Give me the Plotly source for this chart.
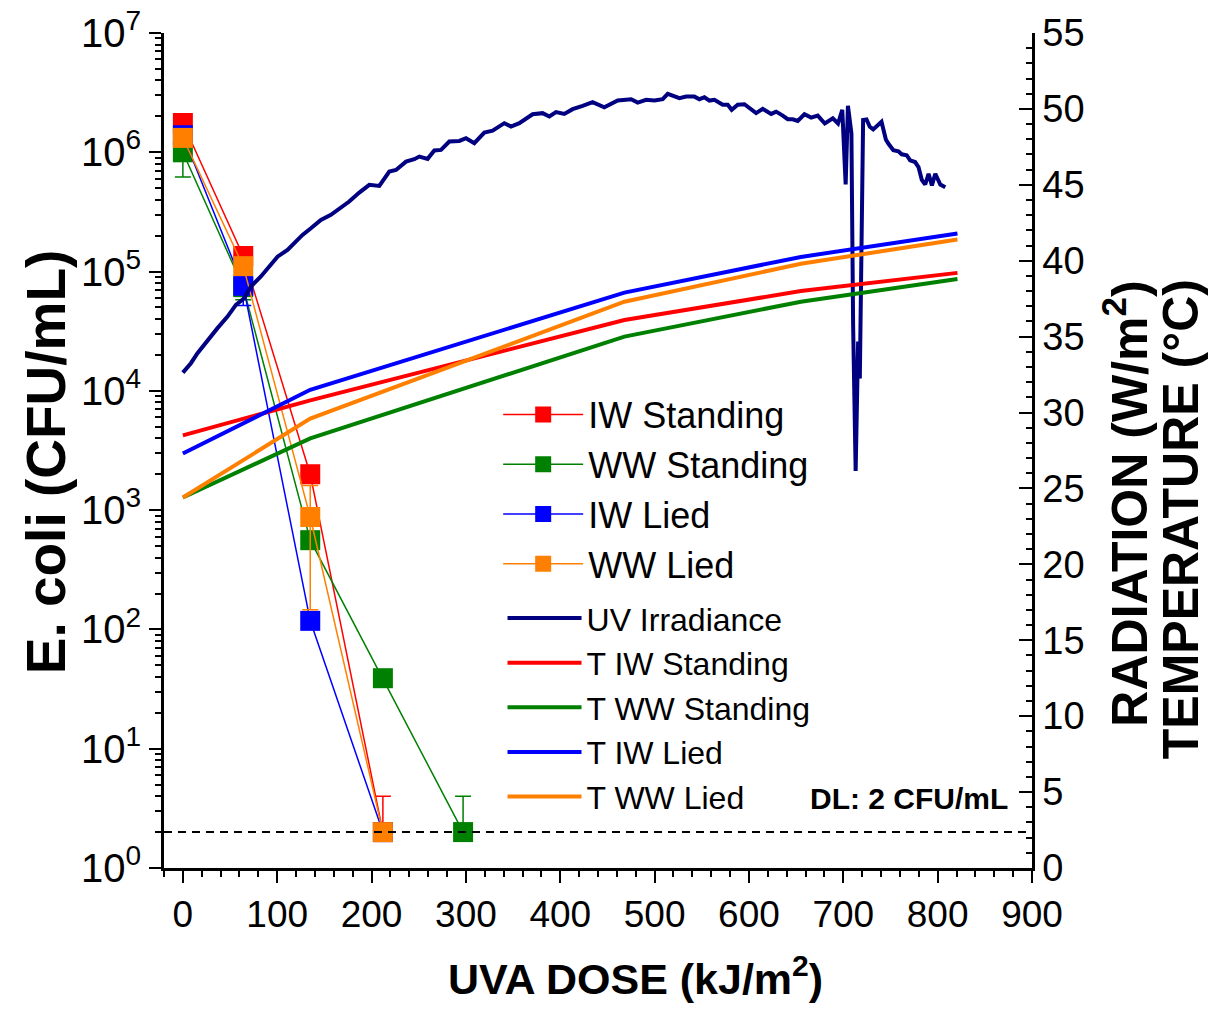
import plotly.graph_objects as go

# ---- E. coli counts (CFU/mL) versus accumulated UVA dose (kJ/m2) ----
dose_iw_standing = [0, 64, 135, 212]
cfu_iw_standing = [1.76e6, 1.35e5, 2000, 2]
err_iw_standing_up = [0, 0, 0, 2]
err_iw_standing_dn = [0, 0, 0, 0]

dose_ww_standing = [0, 64, 135, 212, 297]
cfu_ww_standing = [1.0e6, 7.4e4, 560, 39, 2]
err_ww_standing_up = [3.8e5, 1.6e4, 0, 0, 2]
err_ww_standing_dn = [3.8e5, 1.6e4, 0, 0, 0]

dose_iw_lied = [0, 64, 135, 212]
cfu_iw_lied = [1.39e6, 7.6e4, 118, 2]
err_iw_lied_up = [0, 2.4e4, 0, 0]
err_iw_lied_dn = [0, 2.4e4, 0, 0]

dose_ww_lied = [0, 64, 135, 212]
cfu_ww_lied = [1.32e6, 1.11e5, 876, 2]
err_ww_lied_up = [0, 0, 730, 0]
err_ww_lied_dn = [0, 0, 730, 0]

detection_limit = 2
dl_dose = [-20, 900]

# ---- UV irradiance (W/m2) along the dose axis ----
uv_dose = [0, 8.5, 15.5, 26.1, 36.7, 47.3, 56.2, 65.0, 72.1, 82.7, 93.3, 100.3, 110.9,
           118.0, 126.8, 135.7, 146.3, 156.9, 167.5, 176.3, 187.0, 197.6, 208.2, 218.8,
           225.9, 236.5, 245.3, 250.6, 259.4, 266.5, 273.6, 282.4, 293.0, 300.1, 308.9,
           319.5, 328.3, 340.7, 347.8, 356.6, 370.7, 381.3, 388.4, 395.5, 404.3, 413.1,
           423.7, 434.3, 446.7, 460.9, 475.1, 482.1, 491.0, 499.8, 508.6, 513.9, 526.3,
           533.4, 542.2, 547.5, 552.8, 558.1, 563.4, 572.2, 577.5, 581.7, 588.1, 595.2,
           607.6, 614.6, 623.5, 628.8, 635.8, 641.1, 646.4, 651.7, 658.8, 665.9, 672.9,
           680.4, 688.9, 694.4, 698.9, 702.5, 704.9, 708.6, 710.4, 713.1, 715.7, 717.5,
           721.0, 724.6, 728.1, 731.7, 740.5, 745.1, 747.7, 753.0, 758.4, 761.9, 767.2,
           770.8, 776.1, 779.7, 783.2, 786.8, 790.4, 793.9, 797.5, 802.8, 808.1]
uv_irradiance = [32.63, 33.25, 33.91, 34.78, 35.56, 36.32, 37.09, 37.53, 38.30, 38.96, 39.73,
                 40.27, 40.71, 41.15, 41.70, 42.14, 42.69, 43.02, 43.46, 43.90, 44.49, 45.00,
                 44.93, 45.87, 45.98, 46.53, 46.69, 46.86, 46.71, 47.26, 47.30, 47.85, 47.89,
                 48.07, 47.74, 48.44, 48.57, 49.06, 48.84, 49.06, 49.65, 49.72, 49.50, 49.79,
                 49.67, 49.98, 50.20, 50.44, 50.11, 50.55, 50.64, 50.42, 50.60, 50.55, 50.64,
                 50.99, 50.71, 50.81, 50.81, 50.64, 50.77, 50.55, 50.60, 50.27, 50.27, 49.94,
                 50.27, 50.31, 49.72, 50.00, 49.67, 49.82, 49.56, 49.32, 49.32, 49.21, 49.65,
                 49.43, 49.56, 49.04, 49.38, 49.04, 49.94, 45.02, 50.20, 48.38, 35.77, 26.15,
                 34.67, 32.24, 49.27, 49.31, 48.82, 48.65, 49.15, 47.98, 47.72, 47.28, 47.21,
                 47.01, 46.95, 46.61, 46.50, 46.17, 45.33, 45.02, 45.73, 44.96, 45.73, 45.02,
                 44.84]

# ---- Water temperature (deg C) ----
temp_dose = [0, 135, 468, 655, 821]
temp_iw_standing = [28.5, 30.8, 36.1, 38.0, 39.2]
temp_ww_standing = [24.4, 28.3, 35.0, 37.3, 38.8]
temp_iw_lied = [27.3, 31.5, 37.9, 40.25, 41.8]
temp_ww_lied = [24.4, 29.6, 37.3, 39.8, 41.4]

# ---- axis ticks ----
log_tick_vals = [1, 10, 100, 1e3, 1e4, 1e5, 1e6, 1e7]
log_tick_text = ["10<sup>%d</sup>" % k for k in range(8)]
log_minor_vals = [m * 10 ** k for k in range(7) for m in range(2, 10)]

RED, GREEN, BLUE, ORANGE, NAVY = "#FF0000", "#008000", "#0000FF", "#FF8000", "#000080"
SANS = "Liberation Sans, Arial, sans-serif"

fig = go.Figure()


def survival(name, x, y, up, dn, color):
    fig.add_trace(go.Scatter(
        x=x, y=y, name=name, mode="lines+markers",
        line=dict(color=color, width=1.5),
        marker=dict(symbol="square", size=20, color=color, line=dict(width=0)),
        error_y=dict(type="data", symmetric=False, array=up, arrayminus=dn,
                     color=color, thickness=1.5, width=8),
        legend="legend", yaxis="y",
    ))


survival("IW Standing", dose_iw_standing, cfu_iw_standing, err_iw_standing_up, err_iw_standing_dn, RED)
survival("WW Standing", dose_ww_standing, cfu_ww_standing, err_ww_standing_up, err_ww_standing_dn, GREEN)
survival("IW Lied", dose_iw_lied, cfu_iw_lied, err_iw_lied_up, err_iw_lied_dn, BLUE)
survival("WW Lied", dose_ww_lied, cfu_ww_lied, err_ww_lied_up, err_ww_lied_dn, ORANGE)

# detection limit
fig.add_trace(go.Scatter(
    x=dl_dose, y=[detection_limit, detection_limit], mode="lines",
    line=dict(color="black", width=2, dash="8px,6px"), showlegend=False, yaxis="y",
))


def on_right(name, x, y, color, width):
    fig.add_trace(go.Scatter(
        x=x, y=y, name=name, mode="lines", line=dict(color=color, width=width),
        yaxis="y2", legend="legend2",
    ))


on_right("UV Irradiance", uv_dose, uv_irradiance, NAVY, 4)
on_right("T IW Standing", temp_dose, temp_iw_standing, RED, 4)
on_right("T WW Standing", temp_dose, temp_ww_standing, GREEN, 4)
on_right("T IW Lied", temp_dose, temp_iw_lied, BLUE, 4)
on_right("T WW Lied", temp_dose, temp_ww_lied, ORANGE, 4)

fig.update_layout(
    width=1228, height=1009,
    margin=dict(l=164, r=196, t=33, b=141, autoexpand=False),
    plot_bgcolor="white", paper_bgcolor="white",
    xaxis=dict(
        range=[-20, 900], tick0=0, dtick=100, ticks="outside", ticklen=12, tickwidth=2,
        tickcolor="black", showline=True, linewidth=3, linecolor="black",
        showgrid=False, zeroline=False, automargin=False,
        tickfont=dict(family=SANS, size=37, color="black"),
        minor=dict(tick0=0, dtick=20, ticks="outside", ticklen=6, tickwidth=2,
                   tickcolor="black", showgrid=False),
    ),
    yaxis=dict(
        type="log", range=[0, 7], tickmode="array", tickvals=log_tick_vals,
        ticktext=log_tick_text, ticks="outside", ticklen=12, tickwidth=2,
        tickcolor="black", showline=True, linewidth=3, linecolor="black",
        showgrid=False, zeroline=False, automargin=False,
        tickfont=dict(family=SANS, size=40, color="black"),
        minor=dict(tickmode="array", tickvals=log_minor_vals, ticks="outside",
                   ticklen=6, tickwidth=2, tickcolor="black", showgrid=False),
    ),
    yaxis2=dict(
        overlaying="y", side="right", range=[0, 55], tick0=0, dtick=5,
        ticks="inside", ticklen=13, tickwidth=2, tickcolor="black",
        showline=True, linewidth=2.5, linecolor="black", showgrid=False, zeroline=False,
        automargin=False,
        tickfont=dict(family=SANS, size=38, color="black"),
        minor=dict(dtick=1, ticks="inside", ticklen=6, tickwidth=2,
                   tickcolor="black", showgrid=False),
    ),
    legend=dict(
        x=0.385, y=0.579, xanchor="left", yanchor="top", itemwidth=80,
        font=dict(family=SANS, size=36, color="black"),
        bgcolor="rgba(0,0,0,0)", borderwidth=0, tracegroupgap=0,
    ),
    legend2=dict(
        x=0.39, y=0.332, xanchor="left", yanchor="top", itemwidth=74,
        font=dict(family=SANS, size=32, color="black"),
        bgcolor="rgba(0,0,0,0)", borderwidth=0, tracegroupgap=0,
    ),
    annotations=[
        dict(text="E. coli (CFU/mL)", xref="paper", yref="paper", x=-0.136, y=0.487,
             textangle=-90, showarrow=False, xanchor="center", yanchor="middle",
             font=dict(family=SANS, size=55, color="black", weight="bold")),
        dict(text="UVA DOSE (kJ/m<sup>2</sup>)", xref="paper", yref="paper", x=0.543, y=-0.129,
             showarrow=False, xanchor="center", yanchor="middle",
             font=dict(family=SANS, size=43, color="black", weight="bold")),
        dict(text="RADIATION (W/m<sup>2</sup>)", xref="paper", yref="paper", x=1.108, y=0.436,
             textangle=-90, showarrow=False, xanchor="center", yanchor="middle",
             font=dict(family=SANS, size=50, color="black", weight="bold")),
        dict(text="TEMPERATURE (°C)", xref="paper", yref="paper", x=1.172, y=0.418,
             textangle=-90, showarrow=False, xanchor="center", yanchor="middle",
             font=dict(family=SANS, size=50, color="black", weight="bold")),
        dict(text="DL: 2 CFU/mL", xref="paper", yref="paper", x=0.975, y=0.083,
             showarrow=False, xanchor="right", yanchor="middle",
             font=dict(family=SANS, size=30, color="black", weight="bold")),
    ],
)

fig.write_html("out.html")
